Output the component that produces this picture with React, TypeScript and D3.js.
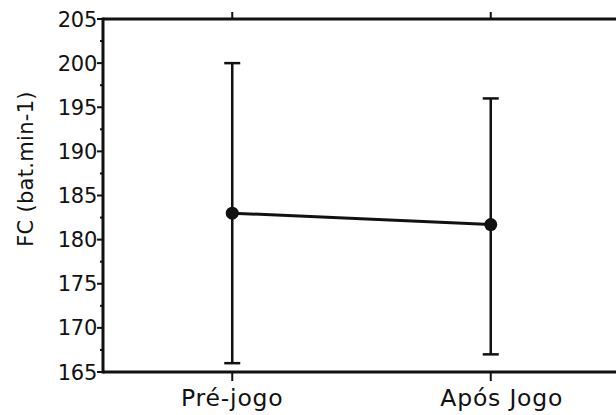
import React from "react";
import * as d3 from "d3";

const categories = ["Pré-jogo", "Após Jogo"];
const means = [183, 181.7];
const upper = [200, 196];
const lower = [166, 167];
const yTicks = [165, 170, 175, 180, 185, 190, 195, 200, 205];
const yMinorTicks = [167.5, 172.5, 177.5, 182.5, 187.5, 192.5, 197.5, 202.5];
const yLabel = "FC (bat.min-1)";

const W = 616;
const H = 415;
const left = 103;
const top = 19;
const bottom = 372;
const font = "'DejaVu Sans', sans-serif";
const ink = "#111";

export default function App() {
  const y = d3.scaleLinear().domain([165, 205]).range([bottom, top]);
  const x = d3.scalePoint<string>().domain(categories).range([left, 620]).padding(0.5);
  const line = d3
    .line<number>()
    .x((_, i) => x(categories[i]) as number)
    .y((d) => y(d));
  const capHalf = 8;

  return (
    <div style={{ position: "fixed", left: 0, top: 0 }}>
      <svg width={W} height={H} style={{ display: "block", background: "#fff" }}>
        {/* frame */}
        <line x1={left} x2={W} y1={top} y2={top} stroke={ink} strokeWidth={3} />
        <line x1={left} x2={W} y1={bottom} y2={bottom} stroke={ink} strokeWidth={3} />
        <line x1={left} x2={left} y1={top - 1.5} y2={bottom + 1.5} stroke={ink} strokeWidth={3} />

        {/* y ticks */}
        {yTicks.map((t) => (
          <g key={t}>
            <line x1={left - 6} x2={left} y1={y(t)} y2={y(t)} stroke={ink} strokeWidth={2} />
            <text
              x={left - 6}
              y={y(t)}
              dy="0.36em"
              textAnchor="end"
              fontFamily={font}
              fontSize={21}
              letterSpacing={-0.3}
              fill={ink}
            >
              {t}
            </text>
          </g>
        ))}
        {yMinorTicks.map((t) => (
          <line key={t} x1={left - 3} x2={left} y1={y(t)} y2={y(t)} stroke={ink} strokeWidth={2} />
        ))}

        {/* x ticks */}
        {categories.map((c, i) => (
          <g key={c}>
            <line x1={x(c)} x2={x(c)} y1={top - 7} y2={top} stroke={ink} strokeWidth={2} />
            <line x1={x(c)} x2={x(c)} y1={bottom} y2={bottom + 9} stroke={ink} strokeWidth={2} />
            <text
              x={(x(c) as number) + (i === 1 ? 11 : 0)}
              y={bottom + 34}
              textAnchor="middle"
              fontFamily={font}
              fontSize={23.5}
              letterSpacing={0.8}
              fill={ink}
            >
              {c}
            </text>
          </g>
        ))}

        {/* y label */}
        <text
          transform={`translate(33, 169) rotate(-90)`}
          textAnchor="middle"
          fontFamily={font}
          fontSize={21}
          letterSpacing={0.3}
          fill={ink}
        >
          {yLabel}
        </text>

        {/* error bars */}
        {categories.map((c, i) => {
          const cx = x(c) as number;
          return (
            <g key={c}>
              <line x1={cx} x2={cx} y1={y(upper[i])} y2={y(lower[i])} stroke={ink} strokeWidth={2.5} />
              <line x1={cx - capHalf} x2={cx + capHalf} y1={y(upper[i])} y2={y(upper[i])} stroke={ink} strokeWidth={2.5} />
              <line x1={cx - capHalf} x2={cx + capHalf} y1={y(lower[i])} y2={y(lower[i])} stroke={ink} strokeWidth={2.5} />
            </g>
          );
        })}

        {/* mean line */}
        <path d={line(means) || ""} fill="none" stroke={ink} strokeWidth={3} />
        {categories.map((c, i) => (
          <circle key={c} cx={x(c)} cy={y(means[i])} r={6.5} fill={ink} />
        ))}
      </svg>
    </div>
  );
}
